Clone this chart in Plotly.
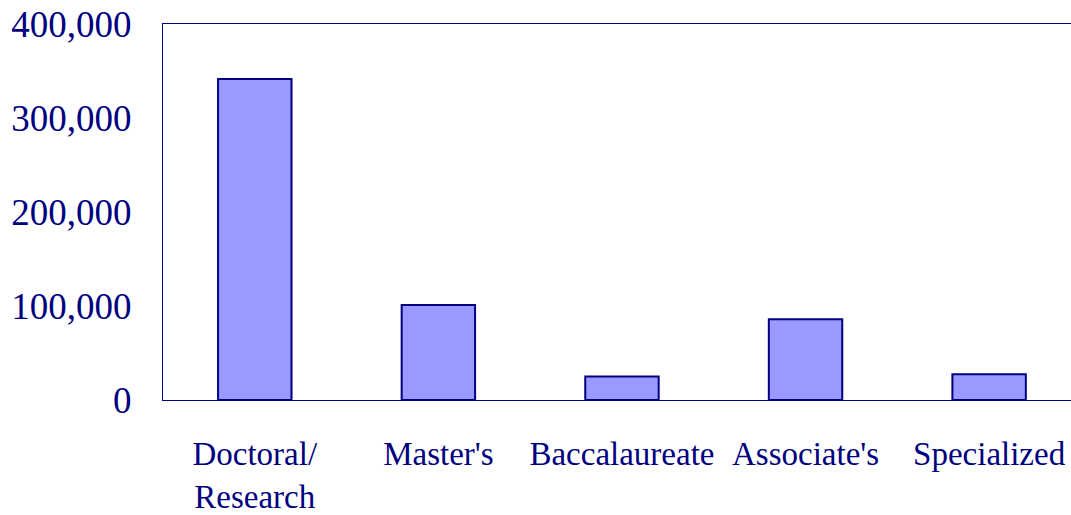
import plotly.graph_objects as go

categories = ["Doctoral/<br>Research", "Master's", "Baccalaureate", "Associate's", "Specialized"]
values = [341500, 101000, 25000, 86000, 27300]
y_ticks = [0, 100000, 200000, 300000, 400000]
y_tick_labels = ["0", "100,000", "200,000", "300,000", "400,000"]

NAVY = "#000080"

fig = go.Figure(
    go.Bar(
        x=list(range(len(categories))),
        y=values,
        marker=dict(color="#9999FF", line=dict(color=NAVY, width=2)),
        width=0.4,
    )
)

fig.update_layout(
    width=1071,
    height=515,
    margin=dict(l=163, r=0, t=24, b=115),
    paper_bgcolor="white",
    plot_bgcolor="white",
    showlegend=False,
    font=dict(family="Liberation Serif", color=NAVY),
)

fig.update_xaxes(
    tickmode="array",
    tickvals=list(range(len(categories))),
    ticktext=categories,
    range=[-0.5, 4.446],
    showgrid=False,
    zeroline=False,
    showline=True,
    linecolor=NAVY,
    linewidth=1,
    mirror=True,
    ticks="",
    tickfont=dict(size=33, color=NAVY, family="Liberation Serif"),
    ticklabelstandoff=24,
)

fig.update_yaxes(
    range=[0, 400000],
    tickmode="array",
    tickvals=y_ticks,
    ticktext=y_tick_labels,
    showgrid=False,
    zeroline=False,
    showline=True,
    linecolor=NAVY,
    linewidth=1,
    ticks="",
    tickfont=dict(size=37, color=NAVY, family="Liberation Serif"),
    ticklabelstandoff=23,
)

fig.write_html(
    "out.html",
    config={"displayModeBar": False},
    post_script="document.body.style.margin='0';document.body.style.overflow='hidden';",
)
